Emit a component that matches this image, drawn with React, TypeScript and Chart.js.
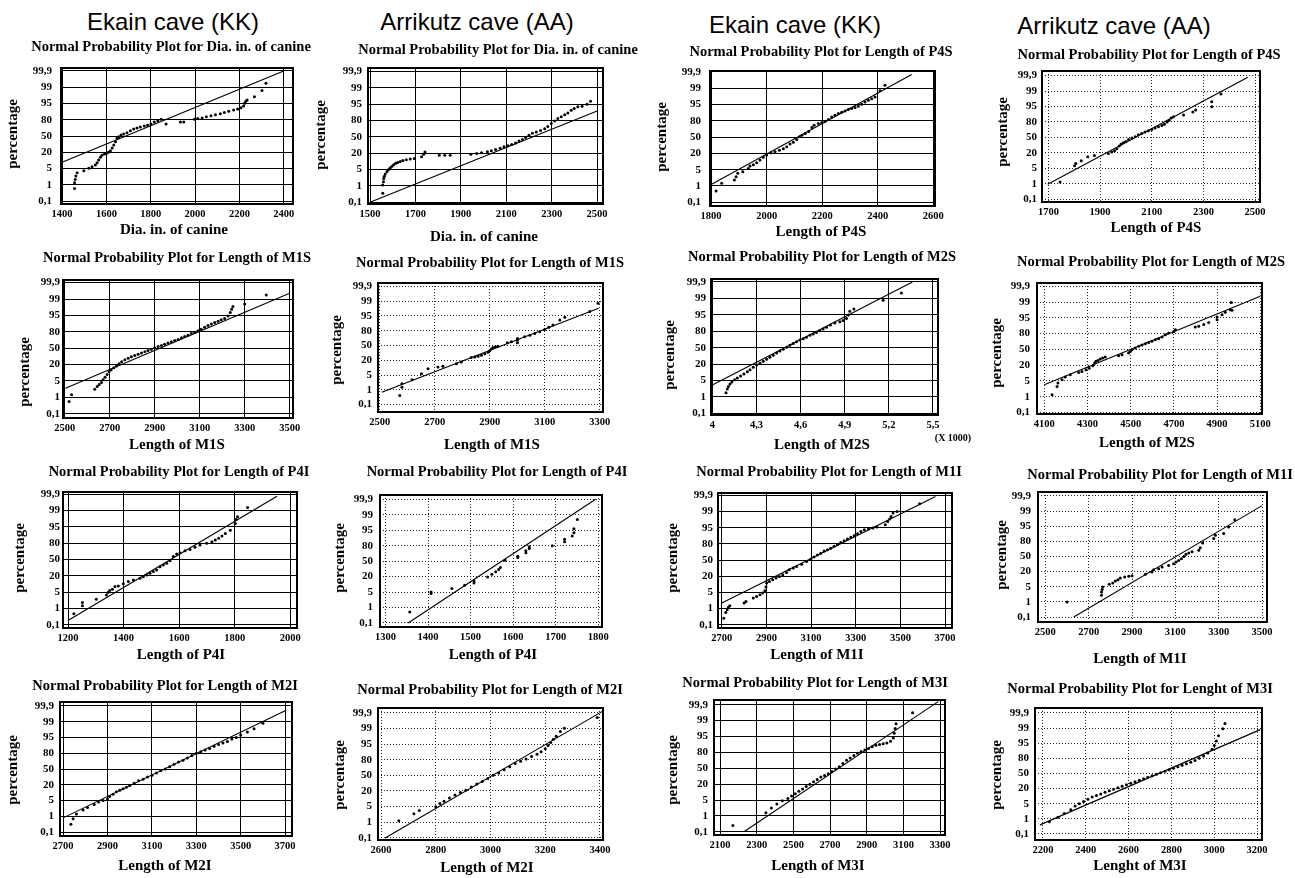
import React, { useEffect, useRef } from 'react';
import { Chart, registerables } from 'chart.js';
Chart.register(...registerables);

type Pt = [number, number];

// ---------- DATA ----------
// probability axis: evenly spaced levels 0..8 carry these labels
const percentLabels = ['0,1', '1', '5', '20', '50', '80', '95', '99', '99,9'];
const percentLevels = [0, 1, 2, 3, 4, 5, 6, 7, 8];

const caveHeaders = ['Ekain cave (KK)', 'Arrikutz cave (AA)', 'Ekain cave (KK)', 'Arrikutz cave (AA)'];

// x tick values per panel
const ticksKkCanine = [1400, 1600, 1800, 2000, 2200, 2400];
const ticksAaCanine = [1500, 1700, 1900, 2100, 2300, 2500];
const ticksKkP4S = [1800, 2000, 2200, 2400, 2600];
const ticksAaP4S = [1700, 1900, 2100, 2300, 2500];
const ticksKkM1S = [2500, 2700, 2900, 3100, 3300, 3500];
const ticksAaM1S = [2500, 2700, 2900, 3100, 3300];
const ticksKkM2S = [4, 4.3, 4.6, 4.9, 5.2, 5.5];
const ticksAaM2S = [4100, 4300, 4500, 4700, 4900, 5100];
const ticksKkP4I = [1200, 1400, 1600, 1800, 2000];
const ticksAaP4I = [1300, 1400, 1500, 1600, 1700, 1800];
const ticksKkM1I = [2700, 2900, 3100, 3300, 3500, 3700];
const ticksAaM1I = [2500, 2700, 2900, 3100, 3300, 3500];
const ticksKkM2I = [2700, 2900, 3100, 3300, 3500, 3700];
const ticksAaM2I = [2600, 2800, 3000, 3200, 3400];
const ticksKkM3I = [2100, 2300, 2500, 2700, 2900, 3100, 3300];
const ticksAaM3I = [2200, 2400, 2600, 2800, 3000, 3200];

// sample points [value, probability level] and fitted lines
const kkCaninePts: Pt[] = [[1456,0.78],[1456,1.13],[1459,1.33],[1462,1.54],[1468,1.74],[1498,1.87],[1520,2.01],[1535,2.11],[1550,2.22],[1558,2.36],[1565,2.52],[1573,2.69],[1580,2.81],[1591,2.89],[1600,2.93],[1609,3.0],[1618,3.1],[1626,3.26],[1633,3.45],[1641,3.65],[1648,3.86],[1656,3.96],[1666,4.06],[1678,4.12],[1693,4.2],[1708,4.33],[1723,4.43],[1738,4.49],[1753,4.55],[1771,4.62],[1786,4.66],[1801,4.74],[1816,4.86],[1832,4.94],[1847,5.03],[1869,4.74],[1934,4.86],[1949,4.86],[1997,5.03],[2012,5.07],[2032,5.11],[2051,5.19],[2072,5.25],[2092,5.31],[2114,5.37],[2132,5.44],[2152,5.52],[2174,5.6],[2192,5.66],[2207,5.74],[2219,5.85],[2224,6.01],[2229,6.13],[2235,6.22],[2268,6.42],[2302,6.79],[2320,7.24]];
const kkCanineLine: Pt[] = [[1400, 2.38], [2400, 8.0]];

const aaCaninePts: Pt[] = [[1556,0.55],[1556,1.06],[1559,1.26],[1560,1.46],[1563,1.6],[1567,1.73],[1575,1.89],[1582,2.01],[1589,2.11],[1597,2.21],[1604,2.29],[1613,2.38],[1622,2.44],[1633,2.5],[1645,2.56],[1660,2.6],[1677,2.64],[1695,2.68],[1727,2.78],[1736,2.94],[1742,3.07],[1805,2.88],[1829,2.88],[1853,2.88],[1944,2.94],[1970,2.98],[1991,3.03],[2017,3.09],[2034,3.15],[2053,3.23],[2073,3.31],[2090,3.39],[2108,3.45],[2124,3.53],[2141,3.63],[2156,3.74],[2171,3.84],[2185,3.96],[2200,4.1],[2215,4.22],[2232,4.3],[2251,4.39],[2269,4.49],[2283,4.63],[2298,4.81],[2313,4.97],[2327,5.12],[2342,5.22],[2357,5.34],[2371,5.46],[2386,5.62],[2399,5.73],[2415,5.83],[2434,5.87],[2456,5.99],[2471,6.17]];
const aaCanineLine: Pt[] = [[1500, 0.0], [2500, 5.58]];

const kkP4SPts: Pt[] = [[1818,0.69],[1838,1.16],[1884,1.37],[1890,1.57],[1896,1.78],[1914,1.88],[1934,2.08],[1940,2.22],[1952,2.31],[1964,2.43],[1976,2.59],[1988,2.76],[2000,2.9],[2015,3.04],[2030,3.1],[2046,3.2],[2060,3.29],[2072,3.41],[2084,3.57],[2096,3.69],[2108,3.86],[2118,4.02],[2127,4.12],[2139,4.22],[2151,4.35],[2163,4.59],[2171,4.73],[2186,4.84],[2198,4.88],[2210,4.96],[2222,5.08],[2234,5.24],[2246,5.35],[2258,5.45],[2270,5.53],[2282,5.61],[2294,5.69],[2306,5.76],[2318,5.82],[2330,5.9],[2342,6.02],[2354,6.16],[2366,6.27],[2378,6.35],[2390,6.47],[2408,6.84],[2426,7.18]];
const kkP4SLine: Pt[] = [[1802, 1.1], [2522, 7.85]];

const aaP4SPts: Pt[] = [[1745,1.12],[1801,2.16],[1806,2.31],[1827,2.49],[1852,2.75],[1878,2.83],[1932,2.96],[1945,3.05],[1956,3.14],[1965,3.26],[1974,3.44],[1981,3.57],[1990,3.65],[1999,3.74],[2010,3.87],[2023,3.96],[2036,4.04],[2048,4.17],[2061,4.26],[2074,4.35],[2087,4.43],[2100,4.52],[2113,4.61],[2126,4.69],[2139,4.78],[2149,4.86],[2159,5.0],[2167,5.12],[2175,5.25],[2184,5.34],[2223,5.45],[2259,5.64],[2270,5.77],[2332,6.31],[2332,5.99],[2368,6.81]];
const aaP4SLine: Pt[] = [[1697, 0.97], [2472, 7.89]];

const kkM1SPts: Pt[] = [[2519,0.75],[2530,1.16],[2633,1.5],[2644,1.66],[2653,1.79],[2663,1.91],[2670,2.07],[2679,2.23],[2688,2.4],[2697,2.56],[2706,2.68],[2718,2.8],[2730,2.92],[2742,3.05],[2753,3.17],[2767,3.29],[2782,3.39],[2796,3.47],[2811,3.55],[2826,3.63],[2841,3.7],[2856,3.78],[2870,3.86],[2885,3.94],[2900,4.02],[2915,4.1],[2930,4.16],[2944,4.24],[2959,4.32],[2974,4.39],[2989,4.47],[3004,4.53],[3019,4.63],[3033,4.71],[3048,4.79],[3063,4.89],[3078,4.97],[3093,5.06],[3107,5.16],[3122,5.28],[3137,5.38],[3152,5.48],[3167,5.56],[3182,5.64],[3196,5.73],[3211,5.81],[3226,5.97],[3236,6.17],[3242,6.38],[3248,6.54],[3300,6.7],[3396,7.25]];
const kkM1SLine: Pt[] = [[2503, 1.56], [3500, 7.35]];

const aaM1SPts: Pt[] = [[2573,0.61],[2581,1.18],[2581,1.41],[2618,1.68],[2652,2.09],[2676,2.43],[2712,2.55],[2730,2.59],[2779,2.77],[2797,2.89],[2833,3.18],[2846,3.23],[2858,3.27],[2870,3.34],[2882,3.45],[2894,3.55],[2900,3.64],[2906,3.77],[2912,3.86],[2921,3.91],[2930,3.95],[2964,4.18],[2979,4.25],[3001,4.36],[3001,4.18],[3001,4.48],[3027,4.59],[3046,4.7],[3064,4.82],[3082,4.93],[3100,5.09],[3115,5.23],[3130,5.39],[3155,5.73],[3173,5.91],[3264,6.3],[3294,6.86]];
const aaM1SLine: Pt[] = [[2508, 0.84], [3296, 6.52]];

const kkM2SPts: Pt[] = [[4.093,1.26],[4.102,1.49],[4.109,1.63],[4.12,1.79],[4.133,1.91],[4.152,2.04],[4.17,2.16],[4.192,2.28],[4.215,2.4],[4.238,2.53],[4.256,2.65],[4.278,2.81],[4.301,2.95],[4.324,3.05],[4.346,3.18],[4.369,3.3],[4.391,3.42],[4.414,3.54],[4.437,3.67],[4.459,3.79],[4.482,3.91],[4.505,4.03],[4.527,4.15],[4.55,4.26],[4.572,4.36],[4.595,4.46],[4.618,4.54],[4.64,4.64],[4.663,4.75],[4.686,4.83],[4.708,4.93],[4.731,5.03],[4.753,5.13],[4.776,5.25],[4.803,5.38],[4.833,5.5],[4.867,5.58],[4.889,5.66],[4.912,5.78],[4.925,5.99],[4.934,6.21],[4.962,6.35],[5.161,6.88],[5.285,7.33]];
const kkM2SLine: Pt[] = [[4.0, 1.73], [5.36, 8.0]];

const aaM2SPts: Pt[] = [[4136,1.12],[4159,1.65],[4163,1.86],[4182,2.07],[4197,2.24],[4220,2.39],[4259,2.54],[4274,2.6],[4293,2.71],[4308,2.81],[4324,2.96],[4333,3.13],[4339,3.24],[4348,3.3],[4359,3.39],[4370,3.45],[4382,3.51],[4444,3.6],[4460,3.66],[4490,3.77],[4498,3.87],[4506,3.98],[4521,4.08],[4537,4.19],[4552,4.28],[4568,4.36],[4583,4.44],[4598,4.51],[4614,4.61],[4629,4.68],[4645,4.78],[4660,4.93],[4676,5.04],[4699,5.14],[4707,5.25],[4799,5.42],[4815,5.46],[4838,5.57],[4861,5.71],[4900,5.88],[4900,6.05],[4923,6.2],[4938,6.35],[4961,6.52],[4966,6.98],[4969,6.48]];
const aaM2SLine: Pt[] = [[4100, 1.76], [5100, 7.37]];

const kkP4IPts: Pt[] = [[1221,0.67],[1252,1.16],[1252,1.36],[1302,1.57],[1338,1.83],[1344,1.98],[1350,2.1],[1360,2.18],[1369,2.34],[1381,2.38],[1399,2.51],[1417,2.65],[1435,2.75],[1459,2.85],[1471,2.95],[1483,3.05],[1495,3.16],[1507,3.26],[1519,3.36],[1531,3.56],[1543,3.67],[1555,3.77],[1567,3.93],[1579,4.18],[1591,4.34],[1603,4.42],[1621,4.54],[1639,4.62],[1657,4.75],[1675,4.89],[1699,4.99],[1718,5.09],[1730,5.19],[1742,5.3],[1754,5.44],[1766,5.6],[1784,5.8],[1802,6.21],[1805,6.46],[1810,6.62],[1846,7.19]];
const kkP4ILine: Pt[] = [[1200, 0.26], [1952, 7.88]];

const aaP4IPts: Pt[] = [[1357,0.71],[1407,1.9],[1407,2.01],[1456,2.23],[1486,2.44],[1508,2.59],[1508,2.72],[1540,2.98],[1550,3.16],[1559,3.31],[1566,3.46],[1570,3.59],[1581,4.06],[1611,4.24],[1611,4.32],[1630,4.54],[1630,4.67],[1638,4.82],[1638,4.93],[1692,4.99],[1721,5.25],[1721,5.41],[1739,5.62],[1743,5.84],[1743,6.1],[1751,6.7]];
const aaP4ILine: Pt[] = [[1353, 0.0], [1794, 8.0]];

const kkM1IPts: Pt[] = [[2709,0.41],[2718,0.76],[2724,0.93],[2730,1.09],[2736,1.18],[2800,1.34],[2808,1.44],[2841,1.65],[2856,1.75],[2871,1.86],[2883,1.96],[2893,2.1],[2898,2.33],[2901,2.58],[2913,2.68],[2928,2.78],[2943,2.89],[2958,2.99],[2973,3.09],[2990,3.24],[3002,3.4],[3020,3.51],[3035,3.61],[3058,3.75],[3080,3.92],[3098,4.06],[3113,4.19],[3128,4.31],[3143,4.43],[3158,4.56],[3173,4.64],[3188,4.74],[3203,4.85],[3218,4.95],[3233,5.09],[3248,5.2],[3263,5.3],[3278,5.42],[3293,5.51],[3308,5.63],[3323,5.77],[3338,5.88],[3357,5.92],[3377,5.98],[3395,6.04],[3432,6.19],[3443,6.39],[3452,6.54],[3458,6.7],[3467,6.91],[3485,7.01],[3586,7.48]];
const kkM1ILine: Pt[] = [[2700, 1.34], [3657, 7.94]];

const aaM1IPts: Pt[] = [[2600,0.99],[2759,1.43],[2759,1.65],[2762,1.81],[2765,1.98],[2795,2.16],[2811,2.25],[2823,2.38],[2835,2.47],[2846,2.58],[2866,2.64],[2885,2.69],[2900,2.73],[2962,2.82],[2992,2.97],[3000,3.13],[3023,3.19],[3039,3.3],[3069,3.41],[3092,3.52],[3103,3.63],[3115,3.74],[3128,3.85],[3139,4.0],[3149,4.14],[3162,4.23],[3177,4.32],[3208,4.41],[3215,4.58],[3226,4.89],[3277,5.18],[3285,5.4],[3323,5.51],[3346,5.95],[3374,6.43]];
const aaM1ILine: Pt[] = [[2631, 0.0], [3500, 7.36]];

const kkM2IPts: Pt[] = [[2735,0.5],[2745,0.85],[2760,1.15],[2790,1.4],[2810,1.55],[2840,1.75],[2860,1.9],[2880,2.0],[2900,2.1],[2910,2.25],[2925,2.4],[2940,2.55],[2955,2.65],[2970,2.75],[2985,2.85],[3000,2.95],[3020,3.1],[3040,3.25],[3060,3.35],[3080,3.5],[3100,3.6],[3120,3.75],[3140,3.9],[3160,4.0],[3180,4.15],[3200,4.3],[3220,4.45],[3240,4.55],[3260,4.7],[3280,4.85],[3300,5.0],[3320,5.1],[3340,5.2],[3360,5.3],[3380,5.45],[3400,5.55],[3420,5.65],[3440,5.75],[3460,5.9],[3480,6.0],[3500,6.15],[3530,6.35],[3560,6.55],[3600,6.9]];
const kkM2ILine: Pt[] = [[2700, 0.9], [3700, 7.7]];

const aaM2IPts: Pt[] = [[2665,1.1],[2720,1.55],[2740,1.75],[2800,2.0],[2815,2.2],[2830,2.35],[2850,2.55],[2870,2.75],[2890,2.9],[2910,3.05],[2930,3.25],[2950,3.45],[2970,3.6],[2990,3.8],[3010,4.0],[3030,4.15],[3050,4.35],[3070,4.55],[3090,4.75],[3110,4.9],[3130,5.05],[3150,5.2],[3170,5.35],[3185,5.5],[3200,5.7],[3210,5.9],[3220,6.1],[3230,6.3],[3240,6.5],[3255,6.8],[3270,7.0],[3390,7.7]];
const aaM2ILine: Pt[] = [[2615, 0.0], [3410, 8.1]];

const kkM3IPts: Pt[] = [[2170,0.4],[2350,1.2],[2380,1.5],[2410,1.75],[2440,1.95],[2470,2.1],[2490,2.25],[2510,2.4],[2530,2.55],[2550,2.7],[2570,2.85],[2590,3.0],[2610,3.15],[2630,3.3],[2650,3.45],[2670,3.55],[2690,3.65],[2710,3.8],[2730,3.95],[2750,4.1],[2770,4.3],[2790,4.5],[2810,4.65],[2830,4.8],[2850,4.95],[2870,5.05],[2890,5.15],[2910,5.25],[2930,5.35],[2950,5.45],[2970,5.5],[2990,5.55],[3010,5.6],[3030,5.7],[3045,5.9],[3050,6.2],[3055,6.5],[3060,6.8],[3150,7.5]];
const kkM3ILine: Pt[] = [[2230, 0.0], [3290, 8.2]];

const aaM3IPts: Pt[] = [[2230,0.8],[2270,1.1],[2300,1.35],[2330,1.6],[2350,1.85],[2370,2.0],[2390,2.15],[2410,2.3],[2430,2.45],[2450,2.55],[2470,2.65],[2490,2.75],[2510,2.85],[2530,2.95],[2550,3.05],[2570,3.15],[2590,3.25],[2610,3.35],[2630,3.45],[2650,3.55],[2670,3.65],[2690,3.75],[2710,3.85],[2730,3.95],[2750,4.05],[2770,4.15],[2790,4.25],[2810,4.35],[2830,4.45],[2850,4.55],[2870,4.65],[2890,4.75],[2910,4.85],[2930,5.0],[2950,5.15],[2970,5.35],[2990,5.6],[3000,5.85],[3010,6.15],[3020,6.5],[3040,6.95],[3050,7.3]];
const aaM3ILine: Pt[] = [[2186, 0.6], [3215, 6.9]];

// ---------- LAYOUT ----------
const SERIF = "'Liberation Serif', 'Times New Roman', 'DejaVu Serif', serif";
const SANS = "'Liberation Sans', Arial, 'DejaVu Sans', sans-serif";
const ML = 64, MT = 56, MR = 40, MB = 50;

interface PanelSpec {
  title: string; xTitle: string;
  ticks: number[]; points: Pt[]; line: Pt[];
  box: [number, number, number, number];
  xr: [number, number]; yr: [number, number];
  tp: [number, number]; xp: [number, number]; yp: [number, number];
  dotted: boolean; yPad: number;
  extra?: [string, number, number];
}

const NP = 'Normal Probability Plot for ';
const panels: PanelSpec[] = [
  { title: NP + 'Dia. in. of canine', xTitle: 'Dia. in. of canine', ticks: ticksKkCanine, points: kkCaninePts, line: kkCanineLine,
    box: [61, 68, 293, 204], xr: [1395, 2442], yr: [-0.18, 8.18], tp: [171, 47], xp: [174, 230], yp: [13, 134], dotted: false, yPad: 9 },
  { title: NP + 'Dia. in. of canine', xTitle: 'Dia. in. of canine', ticks: ticksAaCanine, points: aaCaninePts, line: aaCanineLine,
    box: [368, 68, 603, 204], xr: [1491, 2526], yr: [-0.1, 8.2], tp: [498, 50], xp: [484, 237], yp: [321, 135], dotted: false, yPad: 6 },
  { title: NP + 'Length of P4S', xTitle: 'Length of P4S', ticks: ticksKkP4S, points: kkP4SPts, line: kkP4SLine,
    box: [710, 71, 935, 206], xr: [1796, 2606], yr: [-0.23, 8.06], tp: [821, 52], xp: [821, 232], yp: [662, 137], dotted: false, yPad: 9 },
  { title: NP + 'Length of P4S', xTitle: 'Length of P4S', ticks: ticksAaP4S, points: aaP4SPts, line: aaP4SLine,
    box: [1042, 71, 1260, 202], xr: [1675, 2519], yr: [-0.18, 8.3], tp: [1149, 55], xp: [1156, 228], yp: [1003, 132], dotted: true, yPad: 5 },

  { title: NP + 'Length of M1S', xTitle: 'Length of M1S', ticks: ticksKkM1S, points: kkM1SPts, line: kkM1SLine,
    box: [63, 280, 293, 418], xr: [2492, 3515], yr: [-0.26, 8.16], tp: [177, 258], xp: [177, 445], yp: [25, 372], dotted: false, yPad: 3 },
  { title: NP + 'Length of M1S', xTitle: 'Length of M1S', ticks: ticksAaM1S, points: aaM1SPts, line: aaM1SLine,
    box: [378, 283, 603, 412], xr: [2494, 3312], yr: [-0.5, 8.23], tp: [490, 263], xp: [492, 445], yp: [337, 350], dotted: true, yPad: 6 },
  { title: NP + 'Length of M2S', xTitle: 'Length of M2S', ticks: ticksKkM2S, points: kkM2SPts, line: kkM2SLine,
    box: [711, 279, 938, 415], xr: [3.991, 5.534], yr: [-0.1, 8.18], tp: [822, 257], xp: [822, 445], yp: [670, 355], dotted: false, yPad: 5,
    extra: ['(X 1000)', 953, 438] },
  { title: NP + 'Length of M2S', xTitle: 'Length of M2S', ticks: ticksAaM2S, points: aaM2SPts, line: aaM2SLine,
    box: [1037, 283, 1262, 414], xr: [4066, 5108], yr: [-0.1, 8.21], tp: [1151, 262], xp: [1147, 443], yp: [997, 353], dotted: true, yPad: 7 },

  { title: NP + 'Length of P4I', xTitle: 'Length of P4I', ticks: ticksKkP4I, points: kkP4IPts, line: kkP4ILine,
    box: [63, 492, 297, 628], xr: [1182, 2024], yr: [-0.2, 8.14], tp: [179, 472], xp: [181, 655], yp: [20, 558], dotted: false, yPad: 3 },
  { title: NP + 'Length of P4I', xTitle: 'Length of P4I', ticks: ticksAaP4I, points: aaP4IPts, line: aaP4ILine,
    box: [380, 495, 602, 627], xr: [1287, 1809], yr: [-0.26, 8.28], tp: [497, 472], xp: [493, 655], yp: [340, 558], dotted: true, yPad: 7 },
  { title: NP + 'Length of M1I', xTitle: 'Length of M1I', ticks: ticksKkM1I, points: kkM1IPts, line: kkM1ILine,
    box: [718, 493, 952, 628], xr: [2683, 3731], yr: [-0.2, 8.15], tp: [829, 472], xp: [817, 655], yp: [673, 558], dotted: false, yPad: 5 },
  { title: NP + 'Length of M1I', xTitle: 'Length of M1I', ticks: ticksAaM1I, points: aaM1IPts, line: aaM1ILine,
    box: [1038, 492, 1267, 622], xr: [2466, 3523], yr: [-0.33, 8.26], tp: [1160, 475], xp: [1140, 659], yp: [1002, 555], dotted: true, yPad: 7 },

  { title: NP + 'Length of M2I', xTitle: 'Length of M2I', ticks: ticksKkM2I, points: kkM2IPts, line: kkM2ILine,
    box: [60, 702, 292, 836], xr: [2686, 3731], yr: [-0.25, 8.25], tp: [165, 686], xp: [165, 866], yp: [13, 770], dotted: false, yPad: 6 },
  { title: NP + 'Length of M2I', xTitle: 'Length of M2I', ticks: ticksAaM2I, points: aaM2IPts, line: aaM2ILine,
    box: [378, 708, 603, 840], xr: [2589, 3411], yr: [-0.13, 8.3], tp: [490, 690], xp: [487, 868], yp: [340, 775], dotted: true, yPad: 6 },
  { title: NP + 'Length of M3I', xTitle: 'Length of M3I', ticks: ticksKkM3I, points: kkM3IPts, line: kkM3ILine,
    box: [714, 700, 945, 835], xr: [2067, 3327], yr: [-0.2, 8.3], tp: [815, 683], xp: [818, 866], yp: [673, 770], dotted: false, yPad: 6 },
  { title: NP + 'Lenght of M3I', xTitle: 'Lenght of M3I', ticks: ticksAaM3I, points: aaM3IPts, line: aaM3ILine,
    box: [1035, 708, 1262, 840], xr: [2163, 3223], yr: [-0.4, 8.33], tp: [1140, 689], xp: [1140, 866], yp: [997, 775], dotted: true, yPad: 6 },
];

const headerPos: [number, number][] = [[173, 22], [477, 22], [795, 25], [1114, 26]];

const fmtTick = (v: number) => String(v).replace('.', ',');

function Panel({ spec }: { spec: PanelSpec }) {
  const ref = useRef<HTMLCanvasElement>(null);
  const [l, t, r, b] = spec.box;
  const ox = l - ML, oy = t - MT;
  const W = r - l + ML + MR, H = b - t + MT + MB;

  useEffect(() => {
    const canvas = ref.current;
    if (!canvas) return;
    const gridColor = spec.dotted ? '#222' : '#000';
    const textPlugin = {
      id: 'panelText',
      afterDraw(chart: any) {
        const ctx = chart.ctx as CanvasRenderingContext2D;
        const ca = chart.chartArea;
        ctx.save();
        ctx.strokeStyle = '#000';
        ctx.lineWidth = 2;
        ctx.setLineDash([]);
        ctx.strokeRect(ca.left, ca.top, ca.right - ca.left, ca.bottom - ca.top);
        ctx.fillStyle = '#000';
        ctx.textAlign = 'center';
        ctx.textBaseline = 'middle';
        ctx.font = `bold 14.5px ${SERIF}`;
        ctx.fillText(spec.title, spec.tp[0] - ox, spec.tp[1] - oy);
        ctx.font = `bold 15px ${SERIF}`;
        ctx.fillText(spec.xTitle, spec.xp[0] - ox, spec.xp[1] - oy);
        if (spec.extra) {
          ctx.font = `bold 10px ${SERIF}`;
          ctx.fillText(spec.extra[0], spec.extra[1] - ox, spec.extra[2] - oy);
        }
        ctx.font = `bold 15px ${SERIF}`;
        ctx.translate(spec.yp[0] - ox, spec.yp[1] - oy);
        ctx.rotate(-Math.PI / 2);
        ctx.fillText('percentage', 0, 0);
        ctx.restore();
      },
    };
    const chart = new Chart(canvas, {
      type: 'scatter',
      data: {
        datasets: [
          {
            data: spec.line.map(([x, y]) => ({ x, y })),
            showLine: true,
            borderColor: '#000',
            borderWidth: 1.1,
            pointRadius: 0,
          } as any,
          {
            data: spec.points.map(([x, y]) => ({ x, y })),
            pointRadius: 1.5,
            pointBackgroundColor: '#000',
            pointBorderWidth: 0,
          } as any,
        ],
      },
      options: {
        responsive: false,
        animation: false,
        events: [],
        layout: { padding: { left: 0, top: MT, right: MR, bottom: 0 } },
        plugins: { legend: { display: false }, tooltip: { enabled: false }, title: { display: false } },
        scales: {
          x: {
            type: 'linear',
            min: spec.xr[0],
            max: spec.xr[1],
            afterBuildTicks: (axis: any) => { axis.ticks = spec.ticks.map((v) => ({ value: v })); },
            afterFit: (axis: any) => { axis.height = MB; },
            ticks: {
              autoSkip: false, maxRotation: 0, padding: 4, color: '#000',
              font: { family: SERIF, size: 10.5, weight: 'bold' },
              callback: (_v: any, i: number) => fmtTick(spec.ticks[i]),
            },
            grid: { color: gridColor, lineWidth: 1, drawTicks: false },
            border: { display: false, dash: spec.dotted ? [1, 2] : [] },
          },
          y: {
            type: 'linear',
            min: spec.yr[0],
            max: spec.yr[1],
            afterBuildTicks: (axis: any) => { axis.ticks = percentLevels.map((v) => ({ value: v })); },
            afterFit: (axis: any) => { axis.width = ML; },
            ticks: {
              autoSkip: false, padding: spec.yPad, color: '#000',
              font: { family: SERIF, size: 11, weight: 'bold' },
              callback: (_v: any, i: number) => percentLabels[i],
            },
            grid: { color: gridColor, lineWidth: 1, drawTicks: false },
            border: { display: false, dash: spec.dotted ? [1, 2] : [] },
          },
        },
      } as any,
      plugins: [textPlugin],
    });
    return () => chart.destroy();
  }, []);

  return (
    <canvas
      ref={ref}
      width={W}
      height={H}
      style={{ position: 'absolute', left: ox, top: oy, width: W, height: H }}
    />
  );
}

export default function App() {
  return (
    <div style={{ position: 'fixed', left: 0, top: 0, width: 1295, height: 878, overflow: 'hidden', background: '#fff' }}>
      {caveHeaders.map((h, i) => (
        <div
          key={i}
          style={{
            position: 'absolute', left: headerPos[i][0], top: headerPos[i][1],
            transform: 'translate(-50%, -50%)', whiteSpace: 'nowrap',
            fontFamily: SANS, fontSize: 24, lineHeight: 1, color: '#000',
          }}
        >
          {h}
        </div>
      ))}
      {panels.map((p, i) => (
        <Panel key={i} spec={p} />
      ))}
    </div>
  );
}
